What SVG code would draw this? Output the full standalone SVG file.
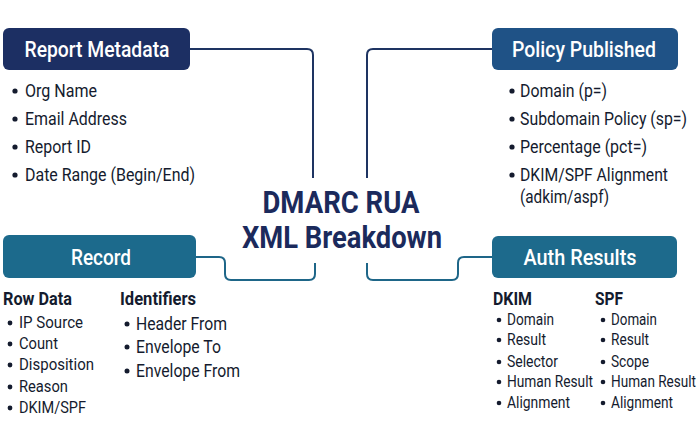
<svg xmlns="http://www.w3.org/2000/svg" width="700" height="440" viewBox="0 0 700 440">
<style>
.hdr{font-family:Roboto,"Liberation Sans",sans-serif;font-weight:500;font-size:22px;fill:#fff;text-anchor:middle}
.it{font-family:Roboto,"Liberation Sans",sans-serif;font-size:19px;fill:#141b2e}
.it2{font-family:Roboto,"Liberation Sans",sans-serif;font-size:17px;fill:#141b2e}
.it3{font-family:Roboto,"Liberation Sans",sans-serif;font-size:16px;fill:#141b2e}
.sub{font-family:Roboto,"Liberation Sans",sans-serif;font-weight:700;font-size:18px;fill:#141b2e}
.ttl{font-family:Roboto,"Liberation Sans",sans-serif;font-weight:700;font-size:31px;fill:#1b2a5c;text-anchor:middle}
.b{fill:#141b2e}
.cn{fill:none;stroke:#1e3462;stroke-width:2}
.ct{fill:none;stroke:#1e6688;stroke-width:2}
</style>
<rect width="700" height="440" fill="#fff"/>
<g id="connectors">
<path class="cn" d="M190,49 H307 Q313,49 313,55 V178"/>
<path class="cn" d="M492,49 H373 Q367,49 367,55 V178"/>
<path class="ct" d="M196,257 H219 Q225,257 225,263 V274 Q225,280 231,280 H309 Q315,280 315,274 V263"/>
<path class="ct" d="M367,263 V274 Q367,280 373,280 H452 Q458,280 458,274 V263 Q458,257 464,257 H492"/>
</g>
<g id="title">
<text class="ttl" x="341" y="213" textLength="157" lengthAdjust="spacingAndGlyphs">DMARC RUA</text>
<text class="ttl" x="342" y="248" textLength="200" lengthAdjust="spacingAndGlyphs">XML Breakdown</text>
</g>
<g id="report-metadata">
<rect x="3" y="28" width="187" height="42" rx="6" fill="#1c2f63"/>
<text class="hdr" x="97" y="57" textLength="145" lengthAdjust="spacingAndGlyphs">Report Metadata</text>
<circle class="b" cx="15" cy="91" r="2.6"/><text class="it" x="25" y="97" textLength="72" lengthAdjust="spacingAndGlyphs">Org Name</text>
<circle class="b" cx="15" cy="119" r="2.6"/><text class="it" x="25" y="125" textLength="102" lengthAdjust="spacingAndGlyphs">Email Address</text>
<circle class="b" cx="15" cy="147" r="2.6"/><text class="it" x="25" y="153" textLength="66" lengthAdjust="spacingAndGlyphs">Report ID</text>
<circle class="b" cx="15" cy="175" r="2.6"/><text class="it" x="25" y="181" textLength="170" lengthAdjust="spacingAndGlyphs">Date Range (Begin/End)</text>
</g>
<g id="policy-published">
<rect x="492" y="28" width="186" height="42" rx="6" fill="#1f5286"/>
<text class="hdr" x="584" y="57" textLength="144" lengthAdjust="spacingAndGlyphs">Policy Published</text>
<circle class="b" cx="512" cy="91" r="2.6"/><text class="it" x="520" y="97" textLength="87" lengthAdjust="spacingAndGlyphs">Domain (p=)</text>
<circle class="b" cx="512" cy="119" r="2.6"/><text class="it" x="520" y="125" textLength="167" lengthAdjust="spacingAndGlyphs">Subdomain Policy (sp=)</text>
<circle class="b" cx="512" cy="147" r="2.6"/><text class="it" x="520" y="153" textLength="127" lengthAdjust="spacingAndGlyphs">Percentage (pct=)</text>
<circle class="b" cx="512" cy="175" r="2.6"/><text class="it" x="520" y="181" textLength="148" lengthAdjust="spacingAndGlyphs">DKIM/SPF Alignment</text>
<text class="it" x="520" y="203" textLength="89" lengthAdjust="spacingAndGlyphs">(adkim/aspf)</text>
</g>
<g id="record">
<rect x="3" y="235" width="193" height="43" rx="6" fill="#1c6a8c"/>
<text class="hdr" x="101" y="265" textLength="60" lengthAdjust="spacingAndGlyphs">Record</text>
<text class="sub" x="3" y="305" textLength="69" lengthAdjust="spacingAndGlyphs">Row Data</text>
<circle class="b" cx="10" cy="323" r="2.4"/><text class="it2" x="19" y="328" textLength="64" lengthAdjust="spacingAndGlyphs">IP Source</text>
<circle class="b" cx="10" cy="344" r="2.4"/><text class="it2" x="19" y="349" textLength="39" lengthAdjust="spacingAndGlyphs">Count</text>
<circle class="b" cx="10" cy="365" r="2.4"/><text class="it2" x="19" y="370" textLength="75" lengthAdjust="spacingAndGlyphs">Disposition</text>
<circle class="b" cx="10" cy="387" r="2.4"/><text class="it2" x="19" y="392" textLength="49" lengthAdjust="spacingAndGlyphs">Reason</text>
<circle class="b" cx="10" cy="408" r="2.4"/><text class="it2" x="19" y="413" textLength="67" lengthAdjust="spacingAndGlyphs">DKIM/SPF</text>
<text class="sub" x="120" y="305" textLength="76" lengthAdjust="spacingAndGlyphs">Identifiers</text>
<circle class="b" cx="127" cy="324" r="2.5"/><text class="it" x="136" y="330" textLength="91" lengthAdjust="spacingAndGlyphs">Header From</text>
<circle class="b" cx="127" cy="347" r="2.5"/><text class="it" x="136" y="353" textLength="85" lengthAdjust="spacingAndGlyphs">Envelope To</text>
<circle class="b" cx="127" cy="371" r="2.5"/><text class="it" x="136" y="377" textLength="104" lengthAdjust="spacingAndGlyphs">Envelope From</text>
</g>
<g id="auth-results">
<rect x="492" y="236" width="185" height="42" rx="6" fill="#1d6a8c"/>
<text class="hdr" x="580" y="265" textLength="113" lengthAdjust="spacingAndGlyphs">Auth Results</text>
<text class="sub" x="493" y="305" textLength="39" lengthAdjust="spacingAndGlyphs">DKIM</text>
<circle class="b" cx="499" cy="320" r="2.3"/><text class="it3" x="507" y="325" textLength="47" lengthAdjust="spacingAndGlyphs">Domain</text>
<circle class="b" cx="499" cy="340" r="2.3"/><text class="it3" x="507" y="345" textLength="39" lengthAdjust="spacingAndGlyphs">Result</text>
<circle class="b" cx="499" cy="362" r="2.3"/><text class="it3" x="507" y="367" textLength="51" lengthAdjust="spacingAndGlyphs">Selector</text>
<circle class="b" cx="499" cy="382" r="2.3"/><text class="it3" x="507" y="387" textLength="86" lengthAdjust="spacingAndGlyphs">Human Result</text>
<circle class="b" cx="499" cy="403" r="2.3"/><text class="it3" x="507" y="408" textLength="63" lengthAdjust="spacingAndGlyphs">Alignment</text>
<text class="sub" x="595" y="305" textLength="28" lengthAdjust="spacingAndGlyphs">SPF</text>
<circle class="b" cx="603" cy="320" r="2.3"/><text class="it3" x="611" y="325" textLength="46" lengthAdjust="spacingAndGlyphs">Domain</text>
<circle class="b" cx="603" cy="340" r="2.3"/><text class="it3" x="611" y="345" textLength="38" lengthAdjust="spacingAndGlyphs">Result</text>
<circle class="b" cx="603" cy="362" r="2.3"/><text class="it3" x="611" y="367" textLength="38" lengthAdjust="spacingAndGlyphs">Scope</text>
<circle class="b" cx="603" cy="382" r="2.3"/><text class="it3" x="611" y="387" textLength="85" lengthAdjust="spacingAndGlyphs">Human Result</text>
<circle class="b" cx="603" cy="403" r="2.3"/><text class="it3" x="611" y="408" textLength="62" lengthAdjust="spacingAndGlyphs">Alignment</text>
</g>
</svg>
